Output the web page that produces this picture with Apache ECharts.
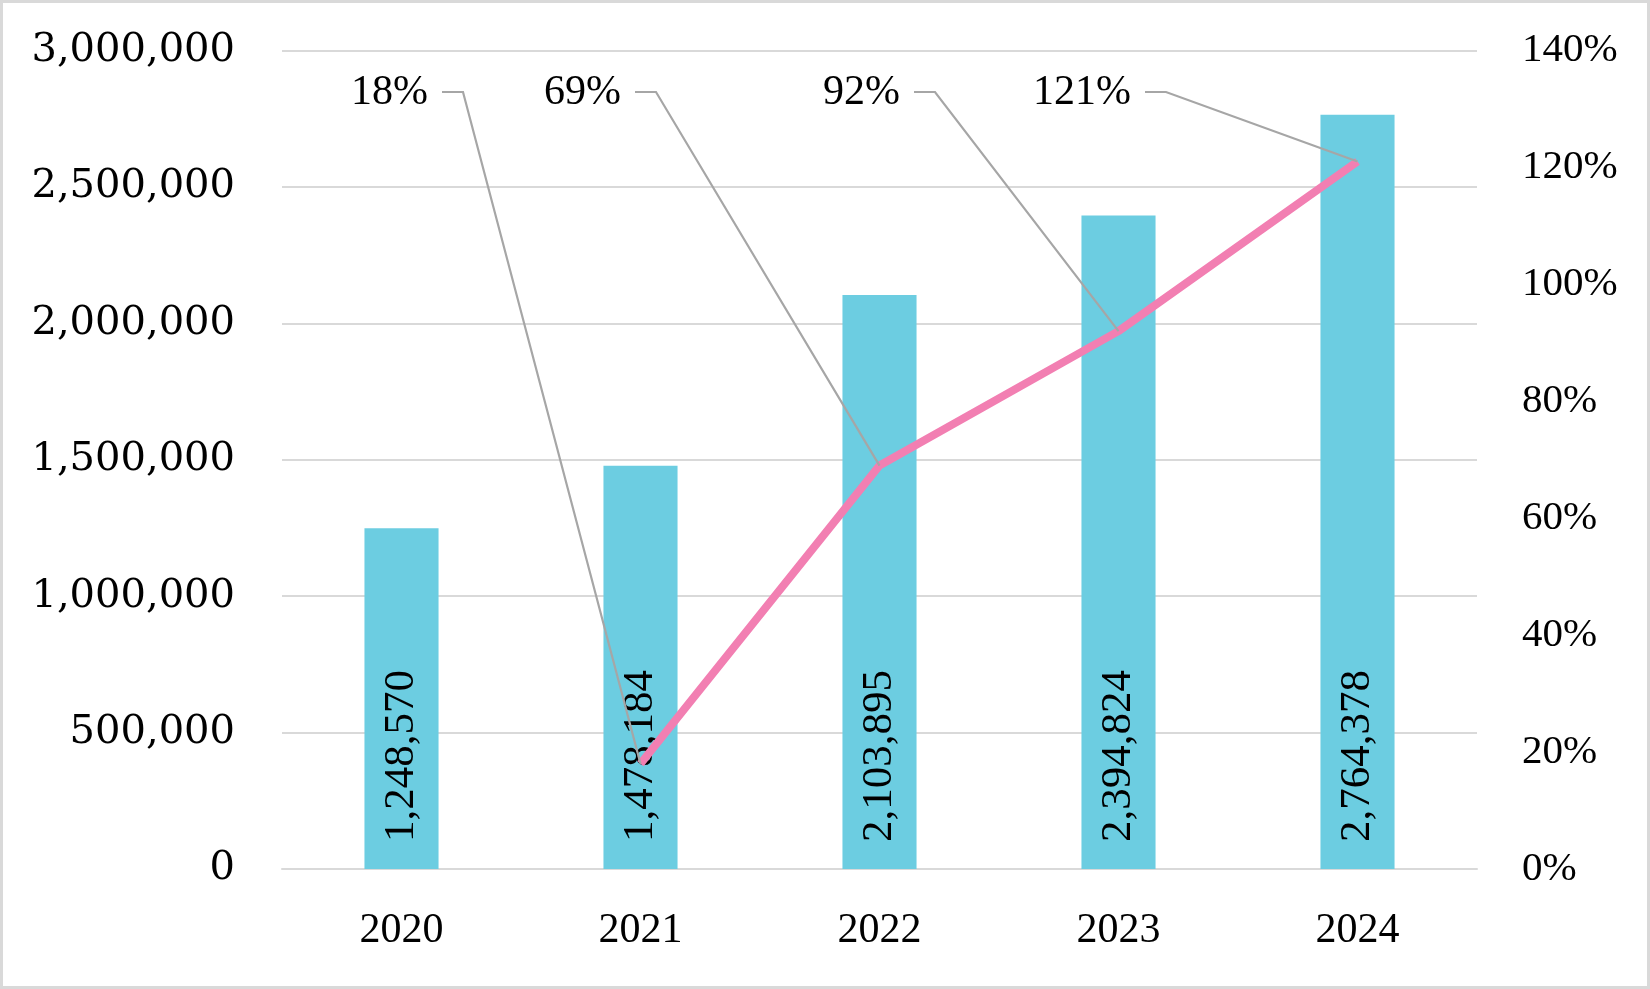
<!DOCTYPE html>
<html>
<head>
<meta charset="utf-8">
<script src="https://cdn.jsdelivr.net/npm/echarts@6/dist/echarts.min.js"></script>
<style>
  html, body { margin: 0; padding: 0; background: #fff; }
  #frame { width: 1650px; height: 989px; box-sizing: border-box; border: 3px solid #d9d9d9; position: relative; }
  #chart { position: absolute; left: -3px; top: -3px; width: 1650px; height: 989px; }
</style>
</head>
<body>
<div id="frame"><div id="chart"></div></div>
<script>
const years = ['2020', '2021', '2022', '2023', '2024'];
const totals = [1248570, 1478184, 2103895, 2394824, 2764378];
const growthPct = [null, 18, 69, 92, 121];
const leftTicks = { min: 0, max: 3000000, interval: 500000 };
const rightTicks = { min: 0, max: 140, interval: 20 };

// label placement (style only)
const labelRightX = [0, 428, 621, 900, 1131];
const labelY = 93;
const FONT = 'Liberation Serif';
const WIDE_FONT = 'DejaVu Serif';

const chart = echarts.init(document.getElementById('chart'), null, { renderer: 'canvas' });

const fmt = v => v.toLocaleString('en-US');

const leaderData = [];
growthPct.forEach((g, i) => { if (g !== null) leaderData.push([i, g]); });

chart.setOption({
  animation: false,
  backgroundColor: 'transparent',
  grid: { left: 282, right: 173, top: 50.5, bottom: 120, containLabel: false },
  xAxis: {
    type: 'category',
    data: years,
    axisLine: { show: true, lineStyle: { color: '#d9d9d9', width: 2 } },
    axisTick: { show: false },
    axisLabel: { color: '#000', fontFamily: FONT, fontSize: 42, margin: 41 }
  },
  yAxis: [
    {
      type: 'value', min: leftTicks.min, max: leftTicks.max, interval: leftTicks.interval,
      axisLine: { show: false }, axisTick: { show: false },
      splitLine: { lineStyle: { color: '#d9d9d9', width: 2 } },
      axisLabel: { color: '#000', fontFamily: WIDE_FONT, fontSize: 40, margin: 47, formatter: v => fmt(v) }
    },
    {
      type: 'value', min: rightTicks.min, max: rightTicks.max, interval: rightTicks.interval,
      axisLine: { show: false }, axisTick: { show: false },
      splitLine: { show: false },
      axisLabel: { color: '#000', fontFamily: FONT, fontSize: 41, margin: 45, formatter: '{value}%' }
    }
  ],
  series: [
    {
      type: 'bar',
      data: totals,
      barWidth: '31%',
      itemStyle: { color: '#6ccde1' },
      z: 2,
      label: {
        show: true,
        position: 'insideBottom',
        rotate: 90,
        align: 'left',
        verticalAlign: 'middle',
        distance: 27,
        color: '#000',
        fontFamily: FONT,
        fontSize: 43,
        formatter: p => fmt(p.value)
      }
    },
    {
      type: 'line',
      yAxisIndex: 1,
      data: growthPct,
      symbol: 'none',
      lineStyle: { color: '#f27fb2', width: 8 },
      z: 4
    },
    {
      type: 'custom',
      yAxisIndex: 1,
      data: leaderData,
      z: 5,
      renderItem: function (params, api) {
        const idx = api.value(0);
        const pt = api.coord([idx, api.value(1)]);
        const lx = labelRightX[idx];
        return {
          type: 'group',
          children: [
            {
              type: 'text',
              style: {
                text: api.value(1) + '%', x: lx, y: labelY,
                align: 'right', verticalAlign: 'middle',
                font: '42px "' + FONT + '"', fill: '#000'
              }
            },
            {
              type: 'polyline',
              shape: { points: [[lx + 14, labelY - 1], [lx + 35, labelY - 1], pt] },
              style: { stroke: '#a6a6a6', lineWidth: 2.2, fill: null }
            }
          ]
        };
      }
    }
  ]
});
</script>
</body>
</html>
